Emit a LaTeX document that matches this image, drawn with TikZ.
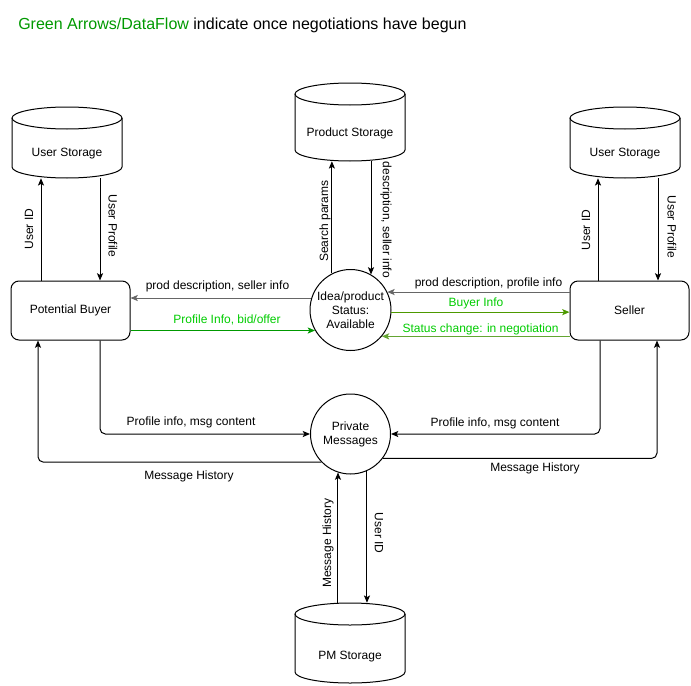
\documentclass[tikz,border=0pt]{standalone}
\usepackage{fontspec}
\setmainfont{Liberation Sans}
\usetikzlibrary{arrows.meta,fit,calc}
\definecolor{tgreen}{RGB}{0,153,0}
\definecolor{lgreen}{RGB}{0,204,0}
\definecolor{linegreenA}{RGB}{0,153,0}
\definecolor{linegreenB}{RGB}{77,153,0}
\definecolor{linegreenC}{RGB}{100,165,50}
\definecolor{linegray}{RGB}{102,102,102}
\newcommand\dbcyl[5]{%
  \node[fit={(#2,#3) (#4,#5)}, inner sep=0pt] (#1) {};
  \draw[line width=0.75pt] (#2,#3+11) -- (#2,#5-11)
     arc[start angle=180, end angle=0, x radius={(#4-#2)/2}, y radius=11] -- (#4,#3+11);
  \draw[line width=0.75pt] ({(#2+#4)/2},#3+11) ellipse [x radius={(#4-#2)/2}, y radius=11];
}
\begin{document}
\begin{tikzpicture}[x=0.75pt,y=-0.75pt,
  every node/.style={font=\fontsize{9}{10.5}\selectfont, inner sep=0pt},
  tip/.style={-{Stealth[length=5.5pt,width=4.6pt,inset=1.3pt]}},
  arr/.style={draw=black, line width=0.75pt, tip},
  grayarr/.style={draw=linegray, line width=0.75pt, tip},
  garrA/.style={draw=linegreenA, line width=0.75pt, tip},
  garrB/.style={draw=linegreenB, line width=0.75pt, tip},
  garrC/.style={draw=linegreenC, line width=0.75pt, tip},
  proc/.style={draw, line width=0.75pt, rounded corners=6pt},
  bubble/.style={draw, circle, line width=0.75pt, align=center},
  glbl/.style={text=lgreen},
  elbow/.style={rounded corners=4pt}]
\useasboundingbox (0,0) rectangle (691,685);

% title
\node[anchor=west, font=\fontsize{12}{14}\selectfont] (title) at (18,25)
  {\textcolor{tgreen}{Green Arrows/DataFlow} indicate once negotiations have begun};

% stores
\dbcyl{usL}{12}{107}{122}{178}
\node (usLt) at (67,154) {User Storage};
\dbcyl{usR}{570}{107}{680}{178}
\node (usRt) at (625,154) {User Storage};
\dbcyl{ps}{295}{83}{405}{161}
\node (pst) at (350,133) {Product Storage};
\dbcyl{pmS}{295}{603}{405}{683}
\node (pmSt) at (350,657) {PM Storage};

% processes / entities
\node[proc, fit={(11,281) (130,340)}] (buyer) {};
\node (buyert) at (buyer.center) {Potential Buyer};
\node[proc, fit={(570,281) (689,340)}] (seller) {};
\node (sellert) at (seller.center) {Seller};
\node[bubble, minimum size=60.75pt] (idea) at (350.5,310) {Idea/product\\Status:\\Available};
\node[bubble, minimum size=60pt] (pm) at (350.5,434) {Private\\Messages};

% left user storage
\draw[arr] (buyer.north -| 41,0) -- (usL.south -| 41,0);
\draw[arr] (usL.south -| 100,0) -- (buyer.north -| 100,0);
\node[rotate=90] (l1) at (29,229) {User ID};
\node[rotate=-90] (l2) at (113,226) {User Profile};

% right user storage
\draw[arr] (seller.north -| 598,0) -- (usR.south -| 598,0);
\draw[arr] (usR.south -| 658,0) -- (seller.north -| 658,0);
\node[rotate=90] (l3) at (586,230) {User ID};
\node[rotate=-90] (l4) at (672,227) {User Profile};

% product storage
\draw[arr] (idea.117) -- (idea.117 |- ps.south);
\draw[arr] (ps.south -| idea.60) -- (idea.60);
\node[rotate=90] (l5) at (325,221) {Search params};
\node[rotate=-90] (l6) at (386,220) {description, seller info};

% buyer <-> idea
\draw[grayarr] (idea.163) -- (idea.163 -| buyer.east);
\node (l7) at (217.5,286) {prod description, seller info};
\draw[garrA] (buyer.east |- idea.210) -- (idea.210);
\node[glbl] (l8) at (227,320) {Profile Info, bid/offer};

% seller <-> idea
\draw[grayarr] (seller.west |- idea.26) -- (idea.26);
\node (l9) at (488.5,283) {prod description, profile info};
\draw[garrB] (idea.-3) -- (idea.-3 -| seller.west);
\node[glbl] (l10) at (476,303) {Buyer Info};
\draw[garrC] (seller.west |- idea.-40) -- (idea.-40);
\node[glbl] (l11) at (480.5,329) {Status change: in negotiation};

% private messages
\draw[arr, elbow] (buyer.south -| 100,0) |- (pm.west);
\node (l12) at (191,422) {Profile info, msg content};
\draw[arr, elbow] (pm.224) -| (buyer.south -| 38,0);
\node (l13) at (189,476) {Message History};
\draw[arr, elbow] (seller.south -| 600,0) |- (pm.east);
\node (l14) at (495,423) {Profile info, msg content};
\draw[arr, elbow] (pm.-37) -| (seller.south -| 657,0);
\node (l15) at (535,468) {Message History};

% pm storage
\draw[arr] (pm.-108 |- pmS.north) -- (pm.-108);
\draw[arr] (pm.-66) -- (pm.-66 |- pmS.north);
\node[rotate=90] (l16) at (328,543) {Message History};
\node[rotate=-90] (l17) at (379,533) {User ID};
\end{tikzpicture}
\end{document}
